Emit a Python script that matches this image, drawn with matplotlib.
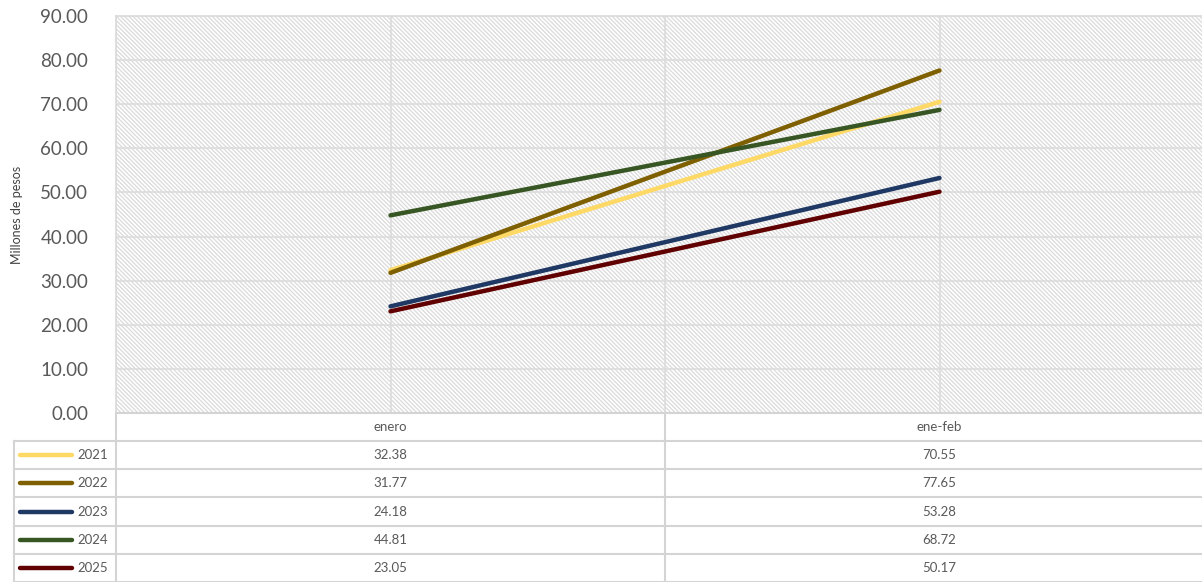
import numpy as np
import matplotlib
matplotlib.use('Agg')
import matplotlib.pyplot as plt

plt.rcParams['font.family'] = ['Lato', 'DejaVu Sans']
plt.rcParams['hatch.linewidth'] = 0.9

# data
categories = ['enero', 'ene-feb']
years = ['2021', '2022', '2023', '2024', '2025']
v2021 = [32.38, 70.55]
v2022 = [31.77, 77.65]
v2023 = [24.18, 53.28]
v2024 = [44.81, 68.72]
v2025 = [23.05, 50.17]
series = [v2021, v2022, v2023, v2024, v2025]
colors = ['#FFD966', '#7F6000', '#1F3864', '#375623', '#600000']

W, H = 1202, 582
fig = plt.figure(figsize=(W / 100, H / 100), dpi=100)

# plot area in pixel terms (right edge runs a bit past the image, as in the original)
px_l, px_r, px_t, px_b = 116, 1214, 16, 413
ax = fig.add_axes([px_l / W, 1 - px_b / H, (px_r - px_l) / W, (px_b - px_t) / H])
x = np.arange(len(categories))
ax.set_xlim(-0.5, len(categories) - 0.5)
ax.set_ylim(0, 90)
ax.add_patch(plt.Rectangle((0, 0), 1, 1, transform=ax.transAxes, facecolor='white',
                           edgecolor='#dadada', linewidth=0, hatch='\\' * 8, zorder=0))
for yv in np.arange(10, 90, 10):
    ax.axhline(yv, color='#dcdcdc', lw=1.2, zorder=1)
for xv in np.arange(0, len(categories) + 0.01, 0.5):
    ax.axvline(xv, color='#dcdcdc', lw=1.2, zorder=1)
for vals, c in zip(series, colors):
    ax.plot(x, vals, color=c, lw=3.2, solid_capstyle='round', zorder=3)
ax.set_yticks(np.arange(0, 91, 10))
ax.set_yticklabels([f'{v:.2f}' for v in np.arange(0, 91, 10)], fontsize=13.5, color='#595959')
ax.set_xticks([])
ax.tick_params(axis='y', length=0, pad=20)
for s in ax.spines.values():
    s.set_color('#d9d9d9')
    s.set_linewidth(1.2)
ax.set_ylabel('Millones de pesos', fontsize=9, color='#404040')
ax.yaxis.set_label_coords(-93 / (px_r - px_l), 0.5)

# data table below
tab = fig.add_axes([0, 0, 1, 1 - px_b / H + 0.0001])
tab.set_xlim(0, W)
tab.set_ylim(H - px_b, 0)
tab.axis('off')
nrows = len(years) + 1
rh = (H - px_b) / nrows
leg_l = 14
cat_w = (px_r - px_l) / len(categories)
gc = '#d4d4d4'
for i in range(nrows + 1):
    x0 = px_l if i == 0 else leg_l
    tab.plot([x0, px_r], [i * rh, i * rh], color=gc, lw=1.5, clip_on=False)
tab.plot([leg_l, leg_l], [rh, H - px_b], color=gc, lw=1.5)
for j in range(len(categories) + 1):
    xv = px_l + j * cat_w
    tab.plot([xv, xv], [0, H - px_b], color=gc, lw=1.5)
for j, cat in enumerate(categories):
    tab.text(px_l + (j + 0.5) * cat_w, rh * 0.5, cat, ha='center', va='center',
             fontsize=9.5, color='#595959')
for i, (yr, vals, c) in enumerate(zip(years, series, colors)):
    yc = (i + 1.5) * rh
    tab.plot([20, 72], [yc, yc], color=c, lw=3.2, solid_capstyle='round')
    tab.text(77, yc, yr, ha='left', va='center', fontsize=9.5, color='#595959')
    for j, v in enumerate(vals):
        tab.text(px_l + (j + 0.5) * cat_w, yc, f'{v:.2f}', ha='center', va='center',
                 fontsize=9.5, color='#595959')

fig.savefig('out.png', dpi=100)
